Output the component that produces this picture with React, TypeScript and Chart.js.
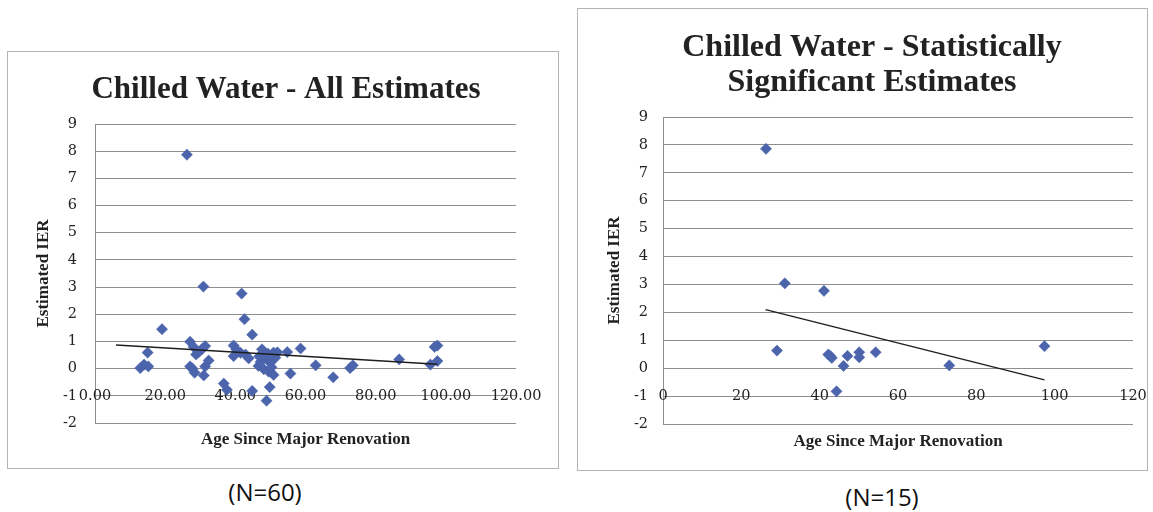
import React, { useEffect, useRef } from "react";
import { Chart, registerables } from "chart.js";

Chart.register(...registerables);

// ---------- Data: all estimates (N=60) ----------
const allAge = [
  12.9, 14.0, 15.2, 15.0, 19.1, 26.2, 27.1, 28.1, 28.8, 27.1,
  27.8, 28.4, 29.5, 31.4, 30.9, 32.4, 31.4, 31.0, 30.5, 36.7,
  37.6, 39.5, 40.3, 39.5, 41.8, 42.6, 44.8, 42.9, 43.8, 41.5,
  44.8, 47.6, 48.1, 49.0, 50.9, 51.4, 46.6, 48.1, 49.5, 50.9,
  50.0, 49.8, 48.9, 47.2, 49.3, 52.0, 46.8, 50.3, 54.8, 58.6,
  55.7, 62.9, 67.9, 72.7, 73.5, 86.7, 95.6, 97.6, 97.6, 96.8,
];
const allIER = [
  0.02, 0.15, 0.08, 0.59, 1.45, 7.87, 0.99, 0.8, 0.52, 0.08,
  0.0, -0.15, 0.6, 0.83, 3.02, 0.3, 0.08, -0.25, 0.72, -0.55,
  -0.78, 0.85, 0.7, 0.46, 2.76, 1.82, 1.25, 0.52, 0.38, 0.58,
  -0.82, 0.71, 0.46, 0.34, 0.59, 0.4, 0.1, -0.02, -0.11, -0.23,
  0.22, -0.68, -1.18, 0.25, 0.55, 0.6, 0.45, 0.05, 0.61, 0.74,
  -0.18, 0.12, -0.32, 0.02, 0.12, 0.34, 0.15, 0.85, 0.28, 0.8,
];
const allTrendAge = [6.0, 97.6];
const allTrendIER = [0.87, 0.16];

// ---------- Data: statistically significant estimates (N=15) ----------
const sigAge = [26.3, 31.1, 41.1, 29.1, 42.2, 43.1, 46.1, 47.1, 50.1, 50.1, 54.3, 44.3, 73.1, 97.4, 42.6];
const sigIER = [7.86, 3.04, 2.77, 0.63, 0.49, 0.37, 0.08, 0.44, 0.57, 0.39, 0.57, -0.83, 0.1, 0.79, 0.45];
const sigTrendAge = [26.2, 97.4];
const sigTrendIER = [2.1, -0.42];

// ---------- Axis ticks ----------
const xTickValues = [0, 20, 40, 60, 80, 100, 120];
const xTickLabelsAll = ["0.00", "20.00", "40.00", "60.00", "80.00", "100.00", "120.00"];
const xTickLabelsSig = ["0", "20", "40", "60", "80", "100", "120"];
const yMin = -2;
const yMax = 9;

const titleAll = ["Chilled Water - All Estimates"];
const titleSig = ["Chilled Water - Statistically", "Significant Estimates"];
const xAxisTitle = "Age Since Major Renovation";
const yAxisTitle = "Estimated IER";

const MARKER = "#4B64AC";
const GRID = "#8e8e8e";
const TEXT = "#222222";
const SERIF = "'Liberation Serif', 'Times New Roman', serif";
const TICKFONT = "'DejaVu Serif', serif";

const panelText = {
  id: "panelText",
  beforeDatasetsDraw(chart: any, _args: any, opts: any) {
    const { ctx, scales } = chart;
    const xs = scales.x;
    const ys = scales.y;
    const yPix = ys.getPixelForValue(opts.labelsAt);
    ctx.save();
    ctx.font = `14.5px ${TICKFONT}`;
    ctx.fillStyle = TEXT;
    ctx.textAlign = "center";
    ctx.textBaseline = "middle";
    opts.values.forEach((v: number, i: number) => {
      ctx.fillText(opts.labels[i], xs.getPixelForValue(v), yPix);
    });
    ctx.restore();
  },
  afterDraw(chart: any, _args: any, opts: any) {
    const { ctx } = chart;
    ctx.save();
    ctx.font = `bold ${opts.titleSize}px ${SERIF}`;
    ctx.fillStyle = TEXT;
    ctx.textAlign = "center";
    ctx.textBaseline = "middle";
    opts.title.forEach((line: string, i: number) => {
      ctx.fillText(line, opts.titleX, opts.titleY + i * opts.titleLine);
    });
    ctx.restore();
  },
};

type PanelProps = {
  boxLeft: number;
  boxTop: number;
  boxW: number;
  boxH: number;
  ages: number[];
  iers: number[];
  trendAges: number[];
  trendIers: number[];
  xLabels: string[];
  title: string[];
  titleX: number;
  titleY: number;
  titleSize: number;
  padTop: number;
  padRight: number;
  padBottom: number;
  yAxisWidth: number;
  xAxisHeight: number;
  yTitlePad: number;
  yTickPad: number;
};

function Panel(p: PanelProps) {
  const ref = useRef<HTMLCanvasElement | null>(null);
  const cw = p.boxW - 2;
  const ch = p.boxH - 2;

  useEffect(() => {
    if (!ref.current) return;
    const points = p.ages.map((a, i) => ({ x: a, y: p.iers[i] }));
    const trend = p.trendAges.map((a, i) => ({ x: a, y: p.trendIers[i] }));
    const chart = new Chart(ref.current, {
      type: "scatter",
      data: {
        datasets: [
          {
            data: points,
            pointStyle: "rectRot",
            pointRadius: 5.6,
            pointBorderWidth: 0.5,
            backgroundColor: MARKER,
            borderColor: MARKER,
            order: 1,
          } as any,
          {
            data: trend,
            showLine: true,
            pointRadius: 0,
            borderColor: "#1e1e1e",
            borderWidth: 1.4,
            order: 0,
          } as any,
        ],
      },
      options: {
        responsive: false,
        animation: false,
        layout: {
          padding: { left: 0, top: p.padTop, right: p.padRight, bottom: p.padBottom },
        },
        plugins: {
          legend: { display: false },
          tooltip: { enabled: false },
          title: { display: false },
          panelText: {
            labelsAt: -1,
            values: xTickValues,
            labels: p.xLabels,
            title: p.title,
            titleX: p.titleX,
            titleY: p.titleY,
            titleSize: p.titleSize,
            titleLine: 35,
          },
        } as any,
        scales: {
          x: {
            type: "linear",
            min: 0,
            max: 120,
            grid: { display: false },
            border: { display: false },
            ticks: { display: false, stepSize: 20 },
            title: {
              display: true,
              text: xAxisTitle,
              color: TEXT,
              font: { family: SERIF, size: 17, weight: "bold" },
              padding: { top: 0, bottom: 4 },
            },
            afterFit: (s: any) => {
              s.height = p.xAxisHeight;
            },
          },
          y: {
            type: "linear",
            min: yMin,
            max: yMax,
            ticks: {
              stepSize: 1,
              color: TEXT,
              padding: p.yTickPad,
              font: { family: TICKFONT, size: 14.5 },
            },
            grid: { color: GRID, lineWidth: 1, drawTicks: false },
            border: { display: true, color: GRID, width: 1 },
            title: {
              display: true,
              text: yAxisTitle,
              color: TEXT,
              font: { family: SERIF, size: 17, weight: "bold" },
              padding: { top: p.yTitlePad, bottom: 0 },
            },
            afterFit: (s: any) => {
              s.width = p.yAxisWidth;
            },
          },
        },
      },
      plugins: [panelText as any],
    });
    return () => chart.destroy();
  }, []);

  return (
    <div
      style={{
        position: "absolute",
        left: p.boxLeft,
        top: p.boxTop,
        width: p.boxW,
        height: p.boxH,
        border: "1px solid #b4b4b4",
        boxSizing: "border-box",
        background: "#ffffff",
      }}
    >
      <canvas ref={ref} width={cw} height={ch} style={{ display: "block", width: cw, height: ch }} />
    </div>
  );
}

export default function App() {
  return (
    <div
      style={{
        position: "fixed",
        left: 0,
        top: 0,
        width: 1153,
        height: 512,
        background: "#ffffff",
        overflow: "hidden",
      }}
    >
      <Panel
        boxLeft={7}
        boxTop={51}
        boxW={552}
        boxH={418}
        ages={allAge}
        iers={allIER}
        trendAges={allTrendAge}
        trendIers={allTrendIER}
        xLabels={xTickLabelsAll}
        title={titleAll}
        titleX={278}
        titleY={37.5}
        titleSize={31}
        padTop={72}
        padRight={42}
        padBottom={14}
        yAxisWidth={87}
        xAxisHeight={31}
        yTitlePad={25.5}
        yTickPad={18}
      />
      <Panel
        boxLeft={577}
        boxTop={8}
        boxW={571}
        boxH={463}
        ages={sigAge}
        iers={sigIER}
        trendAges={sigTrendAge}
        trendIers={sigTrendIER}
        xLabels={xTickLabelsSig}
        title={titleSig}
        titleX={294}
        titleY={38.5}
        titleSize={32}
        padTop={108}
        padRight={14}
        padBottom={14}
        yAxisWidth={85}
        xAxisHeight={32}
        yTitlePad={26}
        yTickPad={15}
      />
      <div
        style={{
          position: "absolute",
          left: 165,
          width: 200,
          top: 476,
          textAlign: "center",
          fontFamily: "'Open Sans', sans-serif",
          fontSize: 24,
          lineHeight: "32px",
          color: "#111",
        }}
      >
        (N=60)
      </div>
      <div
        style={{
          position: "absolute",
          left: 782,
          width: 200,
          top: 481,
          textAlign: "center",
          fontFamily: "'Open Sans', sans-serif",
          fontSize: 24,
          lineHeight: "32px",
          color: "#111",
        }}
      >
        (N=15)
      </div>
    </div>
  );
}
